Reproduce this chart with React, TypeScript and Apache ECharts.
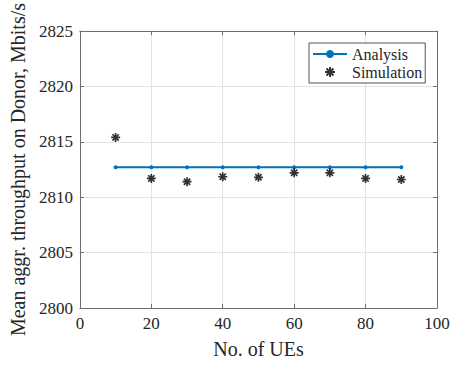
import React, { useEffect, useRef } from "react";
import * as echarts from "echarts";

const ues = [10, 20, 30, 40, 50, 60, 70, 80, 90];
const analysis = [2812.7, 2812.7, 2812.7, 2812.7, 2812.7, 2812.7, 2812.7, 2812.7, 2812.7];
const simulation = [2815.4, 2811.7, 2811.4, 2811.85, 2811.8, 2812.2, 2812.2, 2811.7, 2811.6];

const FONT = "Liberation Serif";
const TEXT = "#262626";
const AXIS = "#6e6e6e";
const GRID = "#e3e3e3";
const BLUE = "#0072BD";
const STAR = "path://M10,0 L10,20 M0,10 L20,10 M3,3 L17,17 M3,17 L17,3";

export default function App() {
  const ref = useRef<HTMLDivElement>(null);
  useEffect(() => {
    if (!ref.current) return;
    const chart = echarts.init(ref.current, undefined, { renderer: "svg" });
    const axisCommon = {
      axisLine: { show: true, onZero: false, lineStyle: { color: AXIS, width: 1 } },
      axisTick: { show: true, inside: true, length: 4, lineStyle: { color: AXIS } },
    };
    chart.setOption({
      animation: false,
      backgroundColor: "#fff",
      textStyle: { fontFamily: FONT },
      grid: { left: 79, right: 20, top: 31, bottom: 57, containLabel: false },
      legend: {
        left: 309,
        top: 43,
        orient: "vertical",
        padding: [3, 3, 3, 3],
        itemGap: 2,
        itemWidth: 34,
        itemHeight: 10,
        borderColor: "#555",
        borderWidth: 1,
        backgroundColor: "#fff",
        textStyle: { fontFamily: FONT, fontSize: 16, color: TEXT },
        data: [{ name: "Analysis" }, { name: "Simulation" }],
      },
      xAxis: [
        {
          type: "value",
          min: 0,
          max: 100,
          interval: 20,
          name: "No. of UEs",
          nameLocation: "middle",
          nameGap: 31,
          nameTextStyle: { fontFamily: FONT, fontSize: 20, color: TEXT },
          axisLabel: { fontFamily: FONT, fontSize: 17, color: TEXT, margin: 7 },
          splitLine: { show: true, lineStyle: { color: GRID } },
          ...axisCommon,
        },
        {
          type: "value",
          position: "top",
          min: 0,
          max: 100,
          interval: 20,
          axisLabel: { show: false },
          splitLine: { show: false },
          ...axisCommon,
        },
      ],
      yAxis: [
        {
          type: "value",
          min: 2800,
          max: 2825,
          interval: 5,
          name: "Mean aggr. throughput on Donor, Mbits/s",
          nameLocation: "middle",
          nameGap: 47,
          nameTextStyle: { fontFamily: FONT, fontSize: 20, color: TEXT },
          axisLabel: {
            fontFamily: FONT,
            fontSize: 17,
            color: TEXT,
            margin: 7,
            formatter: (v: number) => String(v),
          },
          splitLine: { show: true, lineStyle: { color: GRID } },
          ...axisCommon,
        },
        {
          type: "value",
          position: "right",
          min: 2800,
          max: 2825,
          interval: 5,
          axisLabel: { show: false },
          splitLine: { show: false },
          ...axisCommon,
        },
      ],
      series: [
        {
          name: "Analysis",
          type: "line",
          data: ues.map((u, i) => [u, analysis[i]]),
          symbol: "circle",
          symbolSize: 4,
          showSymbol: true,
          lineStyle: { color: BLUE, width: 2 },
          itemStyle: { color: BLUE },
          z: 3,
        },
        {
          name: "Simulation",
          type: "scatter",
          data: ues.map((u, i) => [u, simulation[i]]),
          symbol: STAR,
          symbolSize: 9,
          itemStyle: { color: "#000", borderColor: "#000", borderWidth: 1.7 },
          z: 4,
        },
      ],
    });
    return () => chart.dispose();
  }, []);
  return <div ref={ref} style={{ width: 457, height: 365, position: "absolute", left: 0, top: 0 }} />;
}
